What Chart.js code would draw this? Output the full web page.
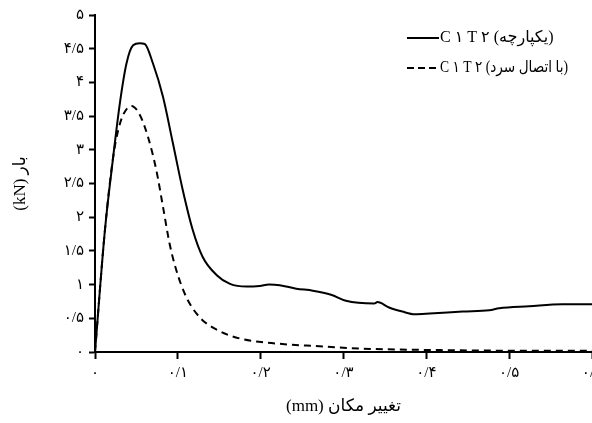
<!DOCTYPE html>
<html>
<head>
<meta charset="utf-8">
<script src="https://cdn.jsdelivr.net/npm/chart.js@4"></script>
<style>
  html, body { margin: 0; padding: 0; background: #fff; }
  #wrap { width: 592px; height: 423px; position: relative; }
</style>
</head>
<body>
<div id="wrap"><canvas id="chart"></canvas></div>
<script>
// data (displacement mm, load kN)
const seriesNames = ['C ۱ T ۲ (یکپارچه)', 'C ۱ T ۲ (با اتصال سرد)'];

const solidX = [0, 0.012, 0.022, 0.030, 0.038, 0.046, 0.054, 0.060, 0.070, 0.082, 0.094, 0.106, 0.118, 0.130, 0.147, 0.163, 0.183, 0.199, 0.210, 0.223, 0.243, 0.263, 0.285, 0.303, 0.337, 0.341, 0.355, 0.371, 0.386, 0.404, 0.444, 0.476, 0.488, 0.524, 0.564, 0.600];
const solidY = [0, 1.81, 2.90, 3.69, 4.28, 4.55, 4.58, 4.57, 4.28, 3.79, 3.10, 2.40, 1.81, 1.41, 1.14, 1.01, 0.97, 0.98, 1.00, 0.99, 0.94, 0.91, 0.85, 0.76, 0.72, 0.74, 0.66, 0.60, 0.56, 0.57, 0.60, 0.62, 0.65, 0.68, 0.71, 0.71];

const dashX = [0, 0.012, 0.022, 0.028, 0.034, 0.044, 0.054, 0.064, 0.074, 0.082, 0.090, 0.098, 0.110, 0.126, 0.147, 0.175, 0.207, 0.235, 0.263, 0.323, 0.404, 0.500, 0.600];
const dashY = [0, 1.81, 2.90, 3.29, 3.52, 3.65, 3.52, 3.19, 2.70, 2.16, 1.61, 1.22, 0.82, 0.52, 0.33, 0.20, 0.14, 0.11, 0.09, 0.05, 0.03, 0.02, 0.02];

const xTicks = [0, 0.1, 0.2, 0.3, 0.4, 0.5, 0.6];
const yTicks = [0, 0.5, 1, 1.5, 2, 2.5, 3, 3.5, 4, 4.5, 5];

const FONT = "'Liberation Serif', 'DejaVu Sans', serif";

// persian digits, "/" as decimal mark
function fa(v) {
  const s = String(Math.round(v * 10) / 10).replace('.', '/');
  return s.replace(/[0-9]/g, d => '۰۱۲۳۴۵۶۷۸۹'[d]);
}

function toPoints(xs, ys) {
  return xs.map((x, i) => ({ x: x, y: ys[i] }));
}

// legend drawn inside the plot, top right
const legendPlugin = {
  id: 'insideLegend',
  afterDraw(chart) {
    const ctx = chart.ctx;
    const rows = [
      { y: 38, dash: [] },
      { y: 68, dash: [7, 4] }
    ];
    ctx.save();
    rows.forEach((r, i) => {
      ctx.strokeStyle = '#000';
      ctx.lineWidth = 2;
      ctx.setLineDash(r.dash);
      ctx.beginPath();
      ctx.moveTo(407, r.y);
      ctx.lineTo(439, r.y);
      ctx.stroke();
      ctx.setLineDash([]);
      ctx.fillStyle = '#000';
      ctx.font = '16px ' + FONT;
      ctx.textBaseline = 'middle';
      ctx.textAlign = 'left';
      ctx.fillText(seriesNames[i], 440, r.y, 128); // squeeze to reference width
    });
    ctx.restore();
  }
};

new Chart(document.getElementById('chart'), {
  type: 'line',
  data: {
    datasets: [
      {
        label: seriesNames[0],
        data: toPoints(solidX, solidY),
        borderColor: '#000',
        borderWidth: 2,
        pointRadius: 0,
        cubicInterpolationMode: 'monotone',
        fill: false
      },
      {
        label: seriesNames[1],
        data: toPoints(dashX, dashY),
        borderColor: '#000',
        borderWidth: 2,
        borderDash: [7, 5],
        pointRadius: 0,
        cubicInterpolationMode: 'monotone',
        fill: false
      }
    ]
  },
  options: {
    responsive: true,
    maintainAspectRatio: false,
    animation: false,
    layout: { padding: { top: 15, left: 0, right: 0, bottom: 0 } },
    plugins: {
      legend: { display: false },
      tooltip: { enabled: false }
    },
    scales: {
      x: {
        type: 'linear',
        min: 0,
        max: 0.6,
        afterBuildTicks: (scale) => { scale.ticks = xTicks.map(v => ({ value: v })); },
        afterFit: (scale) => { scale.height = 71; scale.paddingRight = 0; scale.paddingLeft = 0; },
        grid: { drawOnChartArea: false, color: '#000', tickLength: 7, tickWidth: 2 },
        border: { display: true, color: '#000', width: 2 },
        ticks: {
          color: '#000',
          font: { family: FONT, size: 15 },
          padding: 5,
          maxRotation: 0,
          callback: (v) => fa(v)
        },
        title: {
          display: true,
          text: '\u200E(mm) تغییر مکان',
          color: '#000',
          font: { family: FONT, size: 17 },
          padding: { top: 4, bottom: 6 }
        }
      },
      y: {
        min: 0,
        max: 5,
        afterBuildTicks: (scale) => { scale.ticks = yTicks.map(v => ({ value: v })); },
        afterFit: (scale) => { scale.width = 95; scale.paddingTop = 0; scale.paddingBottom = 0; },
        grid: { drawOnChartArea: false, color: '#000', tickLength: 6, tickWidth: 2 },
        border: { display: true, color: '#000', width: 2 },
        ticks: {
          color: '#000',
          font: { family: FONT, size: 15 },
          padding: 5,
          callback: (v) => fa(v)
        },
        title: {
          display: true,
          text: '\u200E(kN) بار',
          color: '#000',
          font: { family: FONT, size: 17 },
          padding: { top: 10, bottom: 4 }
        }
      }
    }
  },
  plugins: [legendPlugin]
});
</script>
</body>
</html>
